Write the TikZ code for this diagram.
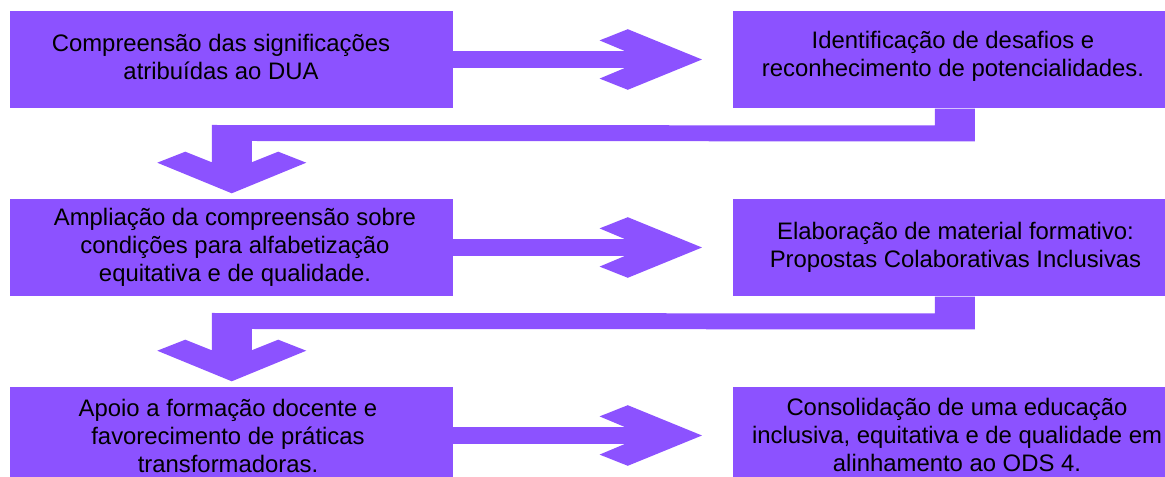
\documentclass[tikz,border=0pt]{standalone}
\usepackage{fontspec}
\setmainfont{Liberation Sans}
\usetikzlibrary{calc}
\definecolor{vio}{HTML}{8C52FF}
\tikzset{
  box/.style={fill=vio, draw=none, minimum width=331.9pt, minimum height=73.4pt, inner sep=0pt},
  lbl/.style={inner sep=0pt, align=center, text=black, font=\fontsize{17.9pt}{21pt}\selectfont},
  arr/.style={fill=vio, draw=none}
}
\begin{document}
\begin{tikzpicture}[x=0.75pt,y=-0.75pt]
\useasboundingbox (0,0) rectangle (1165,477);
% boxes
\node[box] (b1) at (231.25,59.5) {};
\node[box] (b2) at (954.75,59.5) {};
\node[box] (b3) at (231.25,247.5) {};
\node[box] (b4) at (954.75,247.5) {};
\node[box] (b5) at (231.25,435.5) {};
\node[box] (b6) at (954.75,435.5) {};
% labels
\node[lbl] (t1) at ($(b1.center)+(-10.25,-2.5)$) {Compreensão das significações\\atribuídas ao DUA};
\node[lbl] (t2) at ($(b2.center)+(-1.75,-2.8)$) {Identificação de desafios e\\reconhecimento de potencialidades.};
\node[lbl] (t3) at ($(b3.center)+(3.75,-0.2)$) {Ampliação da compreensão sobre\\condições para alfabetização\\equitativa e de qualidade.};
\node[lbl] (t4) at ($(b4.center)+(0.75,-0.2)$) {Elaboração de material formativo:\\Propostas Colaborativas Inclusivas};
\node[lbl] (t5) at ($(b5.center)+(-3.25,0)$) {Apoio a formação docente e\\favorecimento de práticas\\transformadoras.};
\node[lbl] (t6) at ($(b6.center)+(2.25,-1)$) {Consolidação de uma educação\\inclusiva, equitativa e de qualidade em\\alinhamento ao ODS 4.};
% horizontal arrows
\foreach \s in {b1,b3,b5}{
  \fill[arr] ($(\s.east)+(0,-8.3)$) -- ++(172.5,0) -- ++(-25.7,-10.8) -- ++(28.2,-11.2)
    -- ++(74.2,30.3) -- ++(-74.2,30.3) -- ++(-28.2,-11.2) -- ++(25.7,-10.8)
    -- ++(-172.5,0) -- cycle;
}
% elbow arrows
\fill[arr] ($(b2.south)+(-20,0)$) -- ++(40,0) -- ++(0,32.7) -- ($(b3.north)+(20.5,-57.3)$)
  -- ++(0,21.3) -- ++(26.5,-10.6) -- ++(28,11) -- ++(-74.5,30.6) -- ++(-74.5,-30.6)
  -- ++(28,-11) -- ++(26.5,10.6) -- ++(0,-37.3) -- ($(b2.south)+(-20,16.7)$) -- cycle;
\fill[arr] ($(b4.south)+(-20,0)$) -- ++(40,0) -- ++(0,32.7) -- ($(b5.north)+(20.5,-57.3)$)
  -- ++(0,21.3) -- ++(26.5,-10.6) -- ++(28,11) -- ++(-74.5,30.6) -- ++(-74.5,-30.6)
  -- ++(28,-11) -- ++(26.5,10.6) -- ++(0,-37.3) -- ($(b4.south)+(-20,16.7)$) -- cycle;
\end{tikzpicture}
\end{document}
